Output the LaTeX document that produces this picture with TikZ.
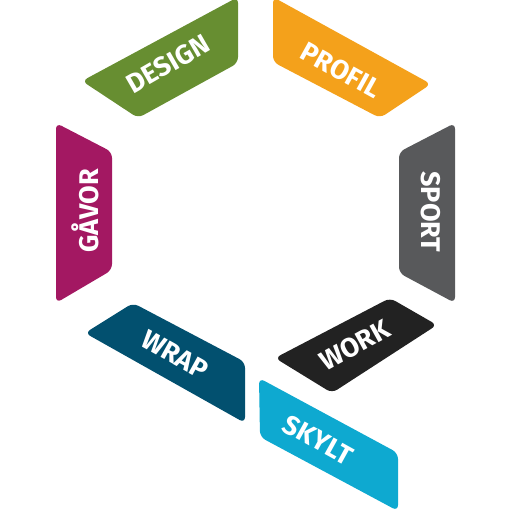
\documentclass[tikz,border=0pt]{standalone}
\usepackage{fontspec}
\setsansfont{Fira Sans}
\usepackage{tikz}
\usetikzlibrary{positioning}

\definecolor{designgreen}{RGB}{103,142,49}
\definecolor{profilorange}{RGB}{244,161,27}
\definecolor{gavorpurple}{RGB}{163,24,98}
\definecolor{sportgrey}{RGB}{88,89,91}
\definecolor{wrapblue}{RGB}{2,80,111}
\definecolor{workblack}{RGB}{34,34,34}
\definecolor{skyltcyan}{RGB}{14,169,208}

\begin{document}
\begin{tikzpicture}[x=1pt, y=-1pt, band/.style={rounded corners=6pt}, tag/.style={text=white, inner sep=0pt, font=\sffamily\bfseries\fontsize{27}{27}\selectfont}]
			\useasboundingbox (0,0) rectangle (512,512);
			\fill[band, designgreen] (82,81) -- (238,-3) -- (238,63) -- (138,118) -- cycle;
			\fill[band, profilorange] (273,-3) -- (431,84) -- (380,118) -- (273,62) -- cycle;
			\fill[band, gavorpurple] (56,123) -- (112,152) -- (112,270) -- (56,303) -- cycle;
			\fill[band, sportgrey] (455,123) -- (455,303) -- (399,273) -- (399,152) -- cycle;
			\fill[band, wrapblue] (133,303) -- (245,362) -- (245,423) -- (85,333) -- cycle;
			\fill[band, workblack] (390,298) -- (437,325) -- (332,393) -- (275,358) -- cycle;
			\fill[band, skyltcyan] (259,378) -- (398,453) -- (398,511) -- (260,437) -- cycle;
			\node[tag, rotate=30] (design) at (168,64) {DESIGN};
			\node[tag, rotate=-29] (profil) at (341,70) {PROFIL};
			\node[tag, rotate=90] (gavor) at (85,211) {GÅVOR};
			\node[tag, rotate=-90] (sport) at (431,212) {SPORT};
			\node[tag, rotate=-29] (wrap) at (175,355) {WRAP};
			\node[tag, rotate=29] (work) at (355,345) {WORK};
			\node[tag, rotate=-29] (skylt) at (318,440) {SKYLT};
		\end{tikzpicture}
\end{document}
